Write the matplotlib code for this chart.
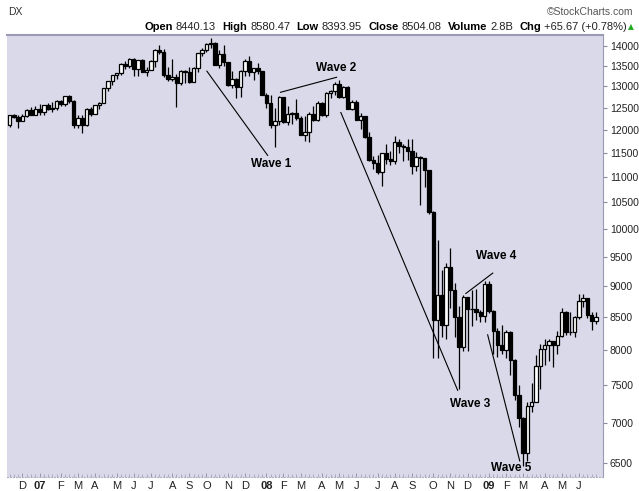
import pandas as pd
import matplotlib
matplotlib.use("Agg")
import matplotlib.pyplot as plt
from matplotlib import font_manager
from matplotlib.ticker import FixedLocator, NullLocator

# weekly bars, first bar = week of 13 Nov 2006, last = week of 29 Jun 2009
start = "2006-11-13"
opens = [12108, 12342, 12280, 12194, 12307, 12445, 12343, 12463, 12398, 12556,
         12477, 12487, 12653, 12580, 12767, 12647, 12114, 12276, 12110, 12481,
         12354, 12560, 12612, 12961, 13120, 13264, 13327, 13556, 13507, 13668,
         13424, 13639, 13360, 13409, 13611, 13908, 13851, 13265, 13182, 13239,
         13079, 13379, 13358, 13113, 13442, 13820, 13896, 14066, 14093, 13522,
         13807, 13595, 13042, 13177, 12980, 13372, 13625, 13339, 13450, 13366,
         12800, 12606, 12099, 12207, 12743, 12183, 12348, 12381, 12266, 11894,
         11951, 12361, 12216, 12609, 12325, 12850, 12891, 13058, 12745, 12986,
         12480, 12638, 12210, 12307, 11842, 11347, 11289, 11100, 11496, 11370,
         11326, 11734, 11659, 11628, 11543, 11220, 11421, 11388, 11143, 10325,
         8451, 8852, 8378, 9325, 8943, 8497, 8046, 8829, 8635, 8629,
         8579, 8515, 9034, 8599, 8281, 8077, 8001, 8280, 7850, 7366,
         7063, 6627, 7224, 7279, 7776, 8018, 8083, 8131, 8076, 8212,
         8575, 8268, 8277, 8500, 8764, 8799, 8540, 8440.13]
highs = [12343, 12355, 12330, 12365, 12460, 12510, 12530, 12580, 12560, 12600,
         12630, 12670, 12690, 12780, 12795, 12690, 12330, 12340, 12490, 12520,
         12570, 12640, 12970, 13140, 13285, 13330, 13560, 13630, 13690, 13690,
         13650, 13680, 13480, 13640, 13920, 14020, 13930, 13470, 13660, 13290,
         13390, 13390, 13480, 13480, 13820, 13940, 14080, 14200, 14100, 13890,
         14020, 13600, 13380, 13200, 13400, 13660, 13760, 13460, 13580, 13370,
         12850, 12800, 12500, 12770, 12760, 12550, 12400, 12700, 12300, 12300,
         12400, 12550, 12660, 12640, 12870, 12920, 13100, 13150, 13000, 13020,
         12690, 12670, 12380, 12310, 11960, 11440, 11460, 11510, 11700, 11550,
         11870, 11800, 11700, 11790, 11790, 11520, 11430, 11400, 11150, 10330,
         9800, 9270, 9400, 9650, 9050, 8680, 8850, 8830, 8935, 8960,
         8620, 9090, 9090, 8620, 8330, 8380, 8300, 8290, 7870, 7500,
         7070, 7270, 7530, 7930, 8090, 8160, 8170, 8140, 8290, 8650,
         8600, 8580, 8520, 8880, 8880, 8800, 8590, 8580.47]
lows = [12070, 12260, 12050, 12190, 12290, 12340, 12340, 12330, 12330, 12450,
        12410, 12440, 12550, 12530, 12620, 12050, 12040, 11940, 12090, 12300,
        12350, 12470, 12600, 12900, 13040, 13170, 13280, 13420, 13440, 13250,
        13260, 13340, 13260, 13400, 13470, 13800, 13230, 13130, 13140, 12520,
        13030, 13080, 13090, 13100, 13350, 13760, 13850, 13960, 13520, 13440,
        13500, 13000, 12960, 12720, 12740, 13240, 13250, 13160, 13290, 12800,
        12500, 12050, 11634, 12100, 12150, 12100, 12120, 12230, 11880, 11750,
        11730, 12200, 12200, 12320, 12280, 12720, 12800, 12730, 12730, 12470,
        12440, 12210, 12030, 11830, 11330, 11170, 11060, 10830, 11270, 11250,
        11280, 11500, 11340, 11360, 11060, 11130, 10460, 10800, 10270, 7882,
        7880, 8200, 8160, 8640, 8200, 7450, 7990, 7990, 8360, 8450,
        8420, 8420, 8570, 7950, 7900, 7950, 7880, 7650, 7300, 6950,
        6470, 6530, 7140, 7280, 7450, 7780, 7840, 7760, 7950, 8200,
        8220, 8220, 8200, 8480, 8660, 8490, 8300, 8393.95]
closes = [12342, 12280, 12194, 12307, 12445, 12343, 12463, 12398, 12556, 12477,
          12487, 12653, 12580, 12767, 12647, 12114, 12276, 12110, 12481, 12354,
          12560, 12612, 12961, 13120, 13264, 13327, 13556, 13507, 13668, 13424,
          13639, 13360, 13409, 13611, 13908, 13851, 13265, 13182, 13239, 13079,
          13379, 13358, 13113, 13442, 13820, 13896, 14066, 14093, 13522, 13807,
          13595, 13042, 13177, 12980, 13372, 13625, 13339, 13450, 13366, 12800,
          12606, 12099, 12207, 12743, 12183, 12348, 12381, 12266, 11894, 11951,
          12361, 12216, 12609, 12325, 12850, 12891, 13058, 12745, 12986, 12480,
          12638, 12210, 12307, 11842, 11347, 11289, 11100, 11496, 11370, 11326,
          11734, 11659, 11628, 11543, 11220, 11421, 11388, 11143, 10325, 8451,
          8852, 8378, 9325, 8943, 8497, 8046, 8829, 8635, 8629, 8579,
          8515, 9034, 8599, 8281, 8077, 8001, 8280, 7850, 7366, 7063,
          6627, 7224, 7279, 7776, 8018, 8083, 8131, 8076, 8212, 8575,
          8268, 8277, 8500, 8764, 8799, 8540, 8438, 8504.08]

yticks = list(range(6500, 14001, 500))
month_letters = ["J", "F", "M", "A", "M", "J", "J", "A", "S", "O", "N", "D"]

# Elliott wave notes: line start/end and label spot, in (week, price)
wave_names = ["Wave 1", "Wave 2", "Wave 3", "Wave 4", "Wave 5"]
wave_x0 = [46.1, 63.3, 77.4, 106.6, 111.7]
wave_y0 = [13370, 12860, 12390, 8880, 8230]
wave_x1 = [60.3, 76.4, 104.7, 112.9, 119.2]
wave_y1 = [11450, 13220, 7430, 9220, 6525]
label_x = [61.2, 76.4, 107.5, 113.6, 117.1]
label_y = [11265, 13450, 7250, 9510, 6440]

header = [("Open", "8440.13"), ("High", "8580.47"), ("Low", "8393.95"),
          ("Close", "8504.08"), ("Volume", "2.8B"), ("Chg", "+65.67 (+0.78%)")]

installed = {f.name for f in font_manager.fontManager.ttflist}
narrow = "Liberation Sans Narrow" if "Liberation Sans Narrow" in installed else "Liberation Sans"
plt.rcParams["font.family"] = [narrow, "DejaVu Sans"]

W, H = 639, 491
fig = plt.figure(figsize=(W / 100, H / 100), dpi=100)
ax = fig.add_axes([7 / W, 14 / H, 596 / W, 442 / H])
ax.set_facecolor("#D9D9E9")
ax.set_yscale("log")

n = len(closes)
x = list(range(n))
up = [c >= o for o, c in zip(opens, closes)]
ax.vlines(x, lows, highs, color="black", lw=0.9, zorder=2)
bottoms = [min(o, c) for o, c in zip(opens, closes)]
heights = [max(abs(c - o), 8) for o, c in zip(opens, closes)]
ax.bar(x, heights, bottom=bottoms, width=0.8,
       color=["white" if u else "black" for u in up],
       edgecolor="black", linewidth=0.9, zorder=3)

for i in range(len(wave_names)):
    ax.plot([wave_x0[i], wave_x1[i]], [wave_y0[i], wave_y1[i]], color="black", lw=0.8, zorder=4)
    ax.text(label_x[i], label_y[i], wave_names[i], ha="center", va="center",
            fontsize=8.5, fontweight="bold", zorder=5)

ax.set_xlim(-0.6, 138.65)
ax.set_ylim(6335, 14290)

# y axis on the right
ax.yaxis.tick_right()
ax.yaxis.set_major_locator(FixedLocator(yticks))
ax.yaxis.set_minor_locator(NullLocator())
ax.set_yticklabels([str(v) for v in yticks], family="Liberation Sans")
ax.tick_params(axis="y", which="major", direction="out", length=3, width=0.8,
               color="#8888A0", labelsize=7.5, labelcolor="#222222", pad=2)

# month ticks
dates = pd.date_range(start, periods=n, freq="W-MON")
month_pos = [i for i in range(1, n) if dates[i].month != dates[i - 1].month]
month_lab = [("%02d" % (dates[i].year % 100)) if dates[i].month == 1 else month_letters[dates[i].month - 1]
             for i in month_pos]
ax.xaxis.set_major_locator(FixedLocator(month_pos))
ax.xaxis.set_minor_locator(FixedLocator(x))
ax.set_xticklabels(month_lab)
for t in ax.get_xticklabels():
    if t.get_text().isdigit():
        t.set_fontweight("bold")
ax.tick_params(axis="x", which="both", direction="in", color="#9999AA",
               labelsize=8, labelcolor="#222222", pad=3)
ax.tick_params(axis="x", which="major", length=3, width=0.7)
ax.tick_params(axis="x", which="minor", length=2, width=0.5)

ax.spines["left"].set_visible(False)
ax.spines["top"].set_color("#9A9AB4")
ax.spines["top"].set_linewidth(1.5)
ax.spines["right"].set_color("#9A9AB4")
ax.spines["right"].set_linewidth(0.8)
ax.spines["bottom"].set_color("#B0B0C0")
ax.spines["bottom"].set_linewidth(0.8)
ax.spines["bottom"].set_linestyle(":")

# header
fig.text(8 / W, 1 - 12 / H, "DX", ha="left", va="center", fontsize=7.5, color="#333333")
fig.text(633 / W, 1 - 12 / H, "©StockCharts.com", ha="right", va="center",
         fontsize=7.5, color="#555555")
prev = fig.text(634 / W, 1 - 27 / H, "▲", ha="right", va="center", fontsize=5.5,
                color="#22AA22", family="DejaVu Sans")
for label, value in reversed(header):
    prev = ax.annotate(value, xy=(0, 0.5), xycoords=prev, xytext=(-1, 0),
                       textcoords="offset points", ha="right", va="center",
                       fontsize=8, color="#222222", annotation_clip=False)
    prev = ax.annotate(label, xy=(0, 0.5), xycoords=prev, xytext=(-2.2, 0),
                       textcoords="offset points", ha="right", va="center",
                       fontsize=8, fontweight="bold", color="black", annotation_clip=False)
    prev = ax.annotate("", xy=(0, 0.5), xycoords=prev, xytext=(-3.5, 0),
                       textcoords="offset points", ha="right", va="center",
                       fontsize=8, annotation_clip=False)

fig.savefig("out.png", dpi=100)
